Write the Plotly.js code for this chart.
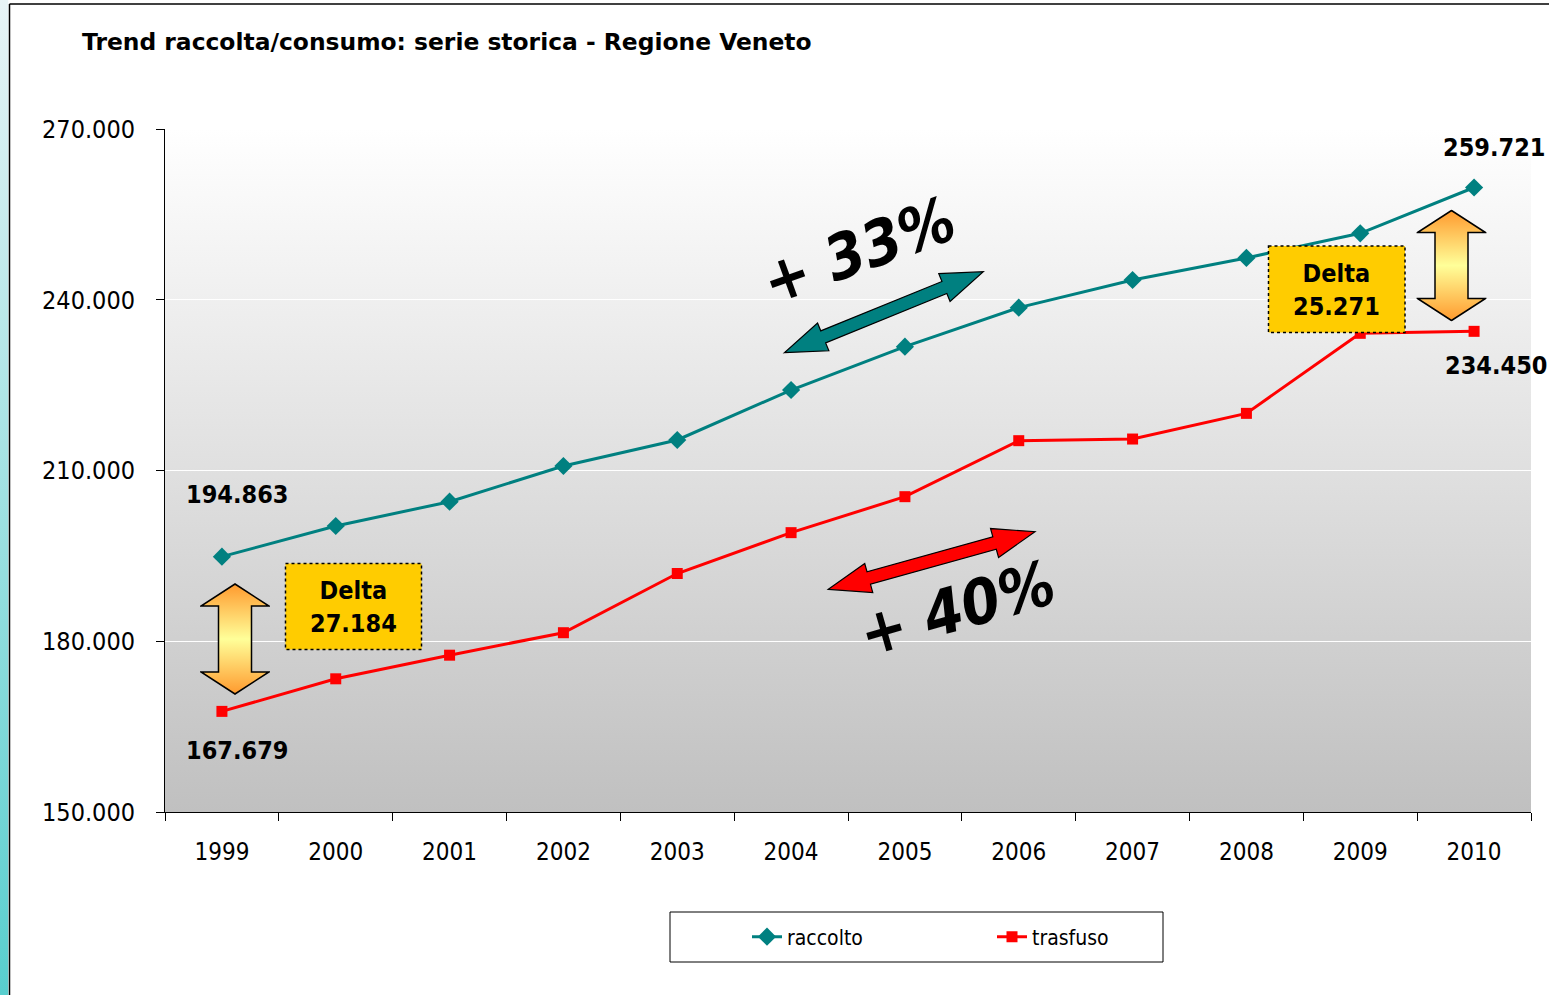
<!DOCTYPE html>
<html>
<head>
<meta charset="utf-8">
<script src="https://cdn.plot.ly/plotly-3.0.1.min.js"></script>
<style>
  html, body { margin: 0; padding: 0; background: #ffffff; }
  #chart { width: 1549px; height: 995px; }
</style>
</head>
<body>
<div id="chart"></div>
<script>
// ---------------- data ----------------
const years = ['1999','2000','2001','2002','2003','2004','2005','2006','2007','2008','2009','2010'];
const raccolto = [194863, 200250, 204520, 210790, 215360, 224140, 231760, 238610, 243470, 247350, 251670, 259721];
const trasfuso = [167679, 173400, 177550, 181500, 191900, 199080, 205400, 215240, 215530, 220040, 234100, 234450];
const yTickVals = [150000, 180000, 210000, 240000, 270000];
const seriesNames = ['raccolto', 'trasfuso'];
const deltaLabels = ['Delta<br>27.184', 'Delta<br>25.271'];
const growthLabels = ['+ 33%', '+ 40%'];

// ---------------- geometry helpers (plot area in pixels) ----------------
const W = 1549, H = 995;
const L = 165, T = 129, PW = 1366, PH = 683;
const fx = x => (x - L) / PW;
const fy = y => (T + PH - y) / PH;

const FONT = '"DejaVu Sans Condensed", "DejaVu Sans", sans-serif';
const WIDE = '"DejaVu Sans", sans-serif';
const NARROW = '"DejaVu Sans Condensed", "DejaVu Sans", sans-serif';

function svgURI(svg) { return 'data:image/svg+xml;charset=utf-8,' + encodeURIComponent(svg); }

const bgSvg = "<svg xmlns='http://www.w3.org/2000/svg' width='100' height='100' viewBox='0 0 100 100' preserveAspectRatio='none'>" +
  "<defs><linearGradient id='g' x1='0' y1='0' x2='0' y2='1'><stop offset='0' stop-color='#FFFFFF'/><stop offset='1' stop-color='#C0C0C0'/></linearGradient></defs>" +
  "<rect width='100' height='100' fill='url(#g)'/></svg>";

const stripSvg = "<svg xmlns='http://www.w3.org/2000/svg' width='10' height='100' viewBox='0 0 10 100' preserveAspectRatio='none'>" +
  "<defs><linearGradient id='g' x1='0' y1='0' x2='0' y2='1'><stop offset='0' stop-color='#E8F4F6'/><stop offset='1' stop-color='#58CECE'/></linearGradient></defs>" +
  "<rect width='10' height='100' fill='url(#g)'/></svg>";

function vArrowSvg(w, h, hl, sw) {
  const c = w / 2, p = 1;
  const a = c - sw / 2, b = c + sw / 2;
  const pts = [[c,p],[w-p,hl],[b,hl],[b,h-hl],[w-p,h-hl],[c,h-p],[p,h-hl],[a,h-hl],[a,hl],[p,hl]];
  return "<svg xmlns='http://www.w3.org/2000/svg' width='" + w + "' height='" + h + "' viewBox='0 0 " + w + " " + h + "' preserveAspectRatio='none'>" +
    "<defs><linearGradient id='o' x1='0' y1='0' x2='0' y2='1'><stop offset='0' stop-color='#FF9A2E'/><stop offset='0.5' stop-color='#FFFF99'/><stop offset='1' stop-color='#FF9A2E'/></linearGradient></defs>" +
    "<polygon points='" + pts.map(q => q.join(',')).join(' ') + "' fill='url(#o)' stroke='#000' stroke-width='1.5' stroke-linejoin='miter'/></svg>";
}

function dblArrowPath(x1, y1, x2, y2, a, b, hl) {
  const dx = x2 - x1, dy = y2 - y1, len = Math.hypot(dx, dy);
  const ux = dx / len, uy = dy / len, nx = -uy, ny = ux;
  const P = (x, y) => [x, y];
  const pts = [
    P(x1, y1),
    P(x1 + ux*hl + nx*b, y1 + uy*hl + ny*b),
    P(x1 + ux*hl + nx*a, y1 + uy*hl + ny*a),
    P(x2 - ux*hl + nx*a, y2 - uy*hl + ny*a),
    P(x2 - ux*hl + nx*b, y2 - uy*hl + ny*b),
    P(x2, y2),
    P(x2 - ux*hl - nx*b, y2 - uy*hl - ny*b),
    P(x2 - ux*hl - nx*a, y2 - uy*hl - ny*a),
    P(x1 + ux*hl - nx*a, y1 + uy*hl - ny*a),
    P(x1 + ux*hl - nx*b, y1 + uy*hl - ny*b)
  ];
  return 'M' + pts.map(q => fx(q[0]).toFixed(5) + ',' + fy(q[1]).toFixed(5)).join(' L') + ' Z';
}

// ---------------- traces ----------------
const traces = [
  {
    x: years, y: raccolto, name: seriesNames[0], type: 'scatter', mode: 'lines+markers',
    line: { color: '#008080', width: 3 },
    marker: { symbol: 'diamond', size: 14, color: '#008080' }
  },
  {
    x: years, y: trasfuso, name: seriesNames[1], type: 'scatter', mode: 'lines+markers',
    line: { color: '#FF0000', width: 3 },
    marker: { symbol: 'square', size: 11, color: '#FF0000' }
  }
];

// ---------------- annotations ----------------
const boldFont = () => ({ family: FONT, size: 25, color: '#000', weight: 'bold' });
const growthFont = () => ({ family: NARROW, size: 62, color: '#000', weight: 'bold', style: 'italic' });
const C = { xanchor: 'center', yanchor: 'middle', showarrow: false };
const first = 0, last = years.length - 1;
const annotations = [
  Object.assign({ xref: 'x', yref: 'y', x: first, y: raccolto[first], text: '194.863', xshift: 15, yshift: 62, font: boldFont() }, C),
  Object.assign({ xref: 'x', yref: 'y', x: first, y: trasfuso[first], text: '167.679', xshift: 15, yshift: -39, font: boldFont() }, C),
  Object.assign({ xref: 'x', yref: 'y', x: last, y: raccolto[last], text: '259.721', xshift: 20, yshift: 40, font: boldFont() }, C),
  Object.assign({ xref: 'x', yref: 'y', x: last, y: trasfuso[last], text: '234.450', xshift: 22, yshift: -34, font: boldFont() }, C),
  Object.assign({ xref: 'paper', yref: 'paper', x: fx(353.5), y: fy(607), text: deltaLabels[0], font: boldFont() }, C),
  Object.assign({ xref: 'paper', yref: 'paper', x: fx(1336.7), y: fy(289.5), text: deltaLabels[1], font: boldFont() }, C),
  Object.assign({ xref: 'paper', yref: 'paper', x: fx(859), y: fy(251), text: growthLabels[0], textangle: -20, font: growthFont() }, C),
  Object.assign({ xref: 'paper', yref: 'paper', x: fx(957), y: fy(608), text: growthLabels[1], textangle: -16, font: growthFont() }, C)
];

// ---------------- shapes ----------------
const shapes = [
  // outer frame lines
  { type: 'line', xref: 'paper', yref: 'paper', x0: fx(9.5), x1: fx(9.5), y0: fy(4), y1: fy(1000), line: { color: '#000', width: 1.5 }, layer: 'below' },
  { type: 'line', xref: 'paper', yref: 'paper', x0: fx(9.5), x1: fx(1560), y0: fy(4), y1: fy(4), line: { color: '#000', width: 1.5 }, layer: 'below' },
  // legend box
  { type: 'rect', xref: 'paper', yref: 'paper', x0: fx(670), x1: fx(1163), y0: fy(912), y1: fy(962), line: { color: '#000', width: 1 }, fillcolor: '#fff', layer: 'below' },
  // delta boxes
  { type: 'rect', xref: 'paper', yref: 'paper', x0: fx(285.5), x1: fx(421.5), y0: fy(563.5), y1: fy(649.5), line: { color: '#000', width: 1.5, dash: 'dot' }, fillcolor: '#FFCC00', layer: 'above' },
  { type: 'rect', xref: 'paper', yref: 'paper', x0: fx(1268.5), x1: fx(1405), y0: fy(246), y1: fy(332.5), line: { color: '#000', width: 1.5, dash: 'dot' }, fillcolor: '#FFCC00', layer: 'above' },
  // growth arrows
  { type: 'path', xref: 'paper', yref: 'paper', path: dblArrowPath(784.3, 352.7, 983.3, 271.7, 6.5, 15, 42), fillcolor: '#008080', line: { color: '#000', width: 1.2 }, layer: 'above' },
  { type: 'path', xref: 'paper', yref: 'paper', path: dblArrowPath(828.3, 589.3, 1035, 531.7, 6.5, 15, 42), fillcolor: '#FF0000', line: { color: '#000', width: 1.2 }, layer: 'above' }
];

// ---------------- images ----------------
const arrowSrc = svgURI(vArrowSvg(70, 112, 23, 33));
const images = [
  { source: svgURI(bgSvg), xref: 'paper', yref: 'paper', x: 0, y: 1, sizex: 1, sizey: 1, sizing: 'stretch', xanchor: 'left', yanchor: 'top', layer: 'below' },
  { source: svgURI(stripSvg), xref: 'paper', yref: 'paper', x: fx(0), y: fy(0), sizex: 8.5 / PW, sizey: 995 / PH, sizing: 'stretch', xanchor: 'left', yanchor: 'top', layer: 'below' },
  { source: arrowSrc, xref: 'paper', yref: 'paper', x: fx(200), y: fy(583), sizex: 70 / PW, sizey: 112 / PH, sizing: 'stretch', xanchor: 'left', yanchor: 'top', layer: 'above' },
  { source: arrowSrc, xref: 'paper', yref: 'paper', x: fx(1416.5), y: fy(209.5), sizex: 70 / PW, sizey: 112 / PH, sizing: 'stretch', xanchor: 'left', yanchor: 'top', layer: 'above' }
];

// ---------------- layout ----------------
const layout = {
  width: W, height: H,
  margin: { l: L, r: W - L - PW, t: T, b: H - T - PH, pad: 0 },
  paper_bgcolor: '#ffffff',
  plot_bgcolor: 'rgba(0,0,0,0)',
  separators: ',.',
  font: { family: FONT, size: 24, color: '#000' },
  title: {
    text: 'Trend raccolta/consumo: serie storica - Regione Veneto',
    xref: 'container', yref: 'container', x: 82 / W, xanchor: 'left', y: 1 - 42 / H, yanchor: 'middle',
    font: { family: WIDE, size: 23.4, color: '#000', weight: 'bold' }
  },
  xaxis: {
    type: 'category', categoryorder: 'array', categoryarray: years,
    range: [-0.5, 11.5],
    tickson: 'boundaries', ticks: 'outside', ticklen: 8, tickcolor: '#000', tickwidth: 1,
    showline: true, linecolor: '#000', linewidth: 1,
    showgrid: false, zeroline: false,
    ticklabelstandoff: 18,
    tickfont: { family: FONT, size: 24, color: '#000' }
  },
  yaxis: {
    range: [150000, 270000], tickvals: yTickVals, tickformat: ',d',
    ticks: 'outside', ticklen: 8, tickcolor: '#000', tickwidth: 1,
    showline: true, linecolor: '#000', linewidth: 1,
    showgrid: true, gridcolor: '#ffffff', gridwidth: 1, zeroline: false,
    ticklabelstandoff: 16,
    tickfont: { family: FONT, size: 25, color: '#000' }
  },
  showlegend: true,
  legend: {
    orientation: 'h', xref: 'paper', yref: 'paper',
    x: fx(747), xanchor: 'left', y: fy(937), yanchor: 'middle',
    bgcolor: 'rgba(0,0,0,0)', borderwidth: 0,
    entrywidth: 200, entrywidthmode: 'pixels',
    font: { family: FONT, size: 21, color: '#000' }
  },
  annotations: annotations,
  shapes: shapes,
  images: images
};

Plotly.newPlot('chart', traces, layout, { displayModeBar: false, staticPlot: true });
</script>
</body>
</html>
